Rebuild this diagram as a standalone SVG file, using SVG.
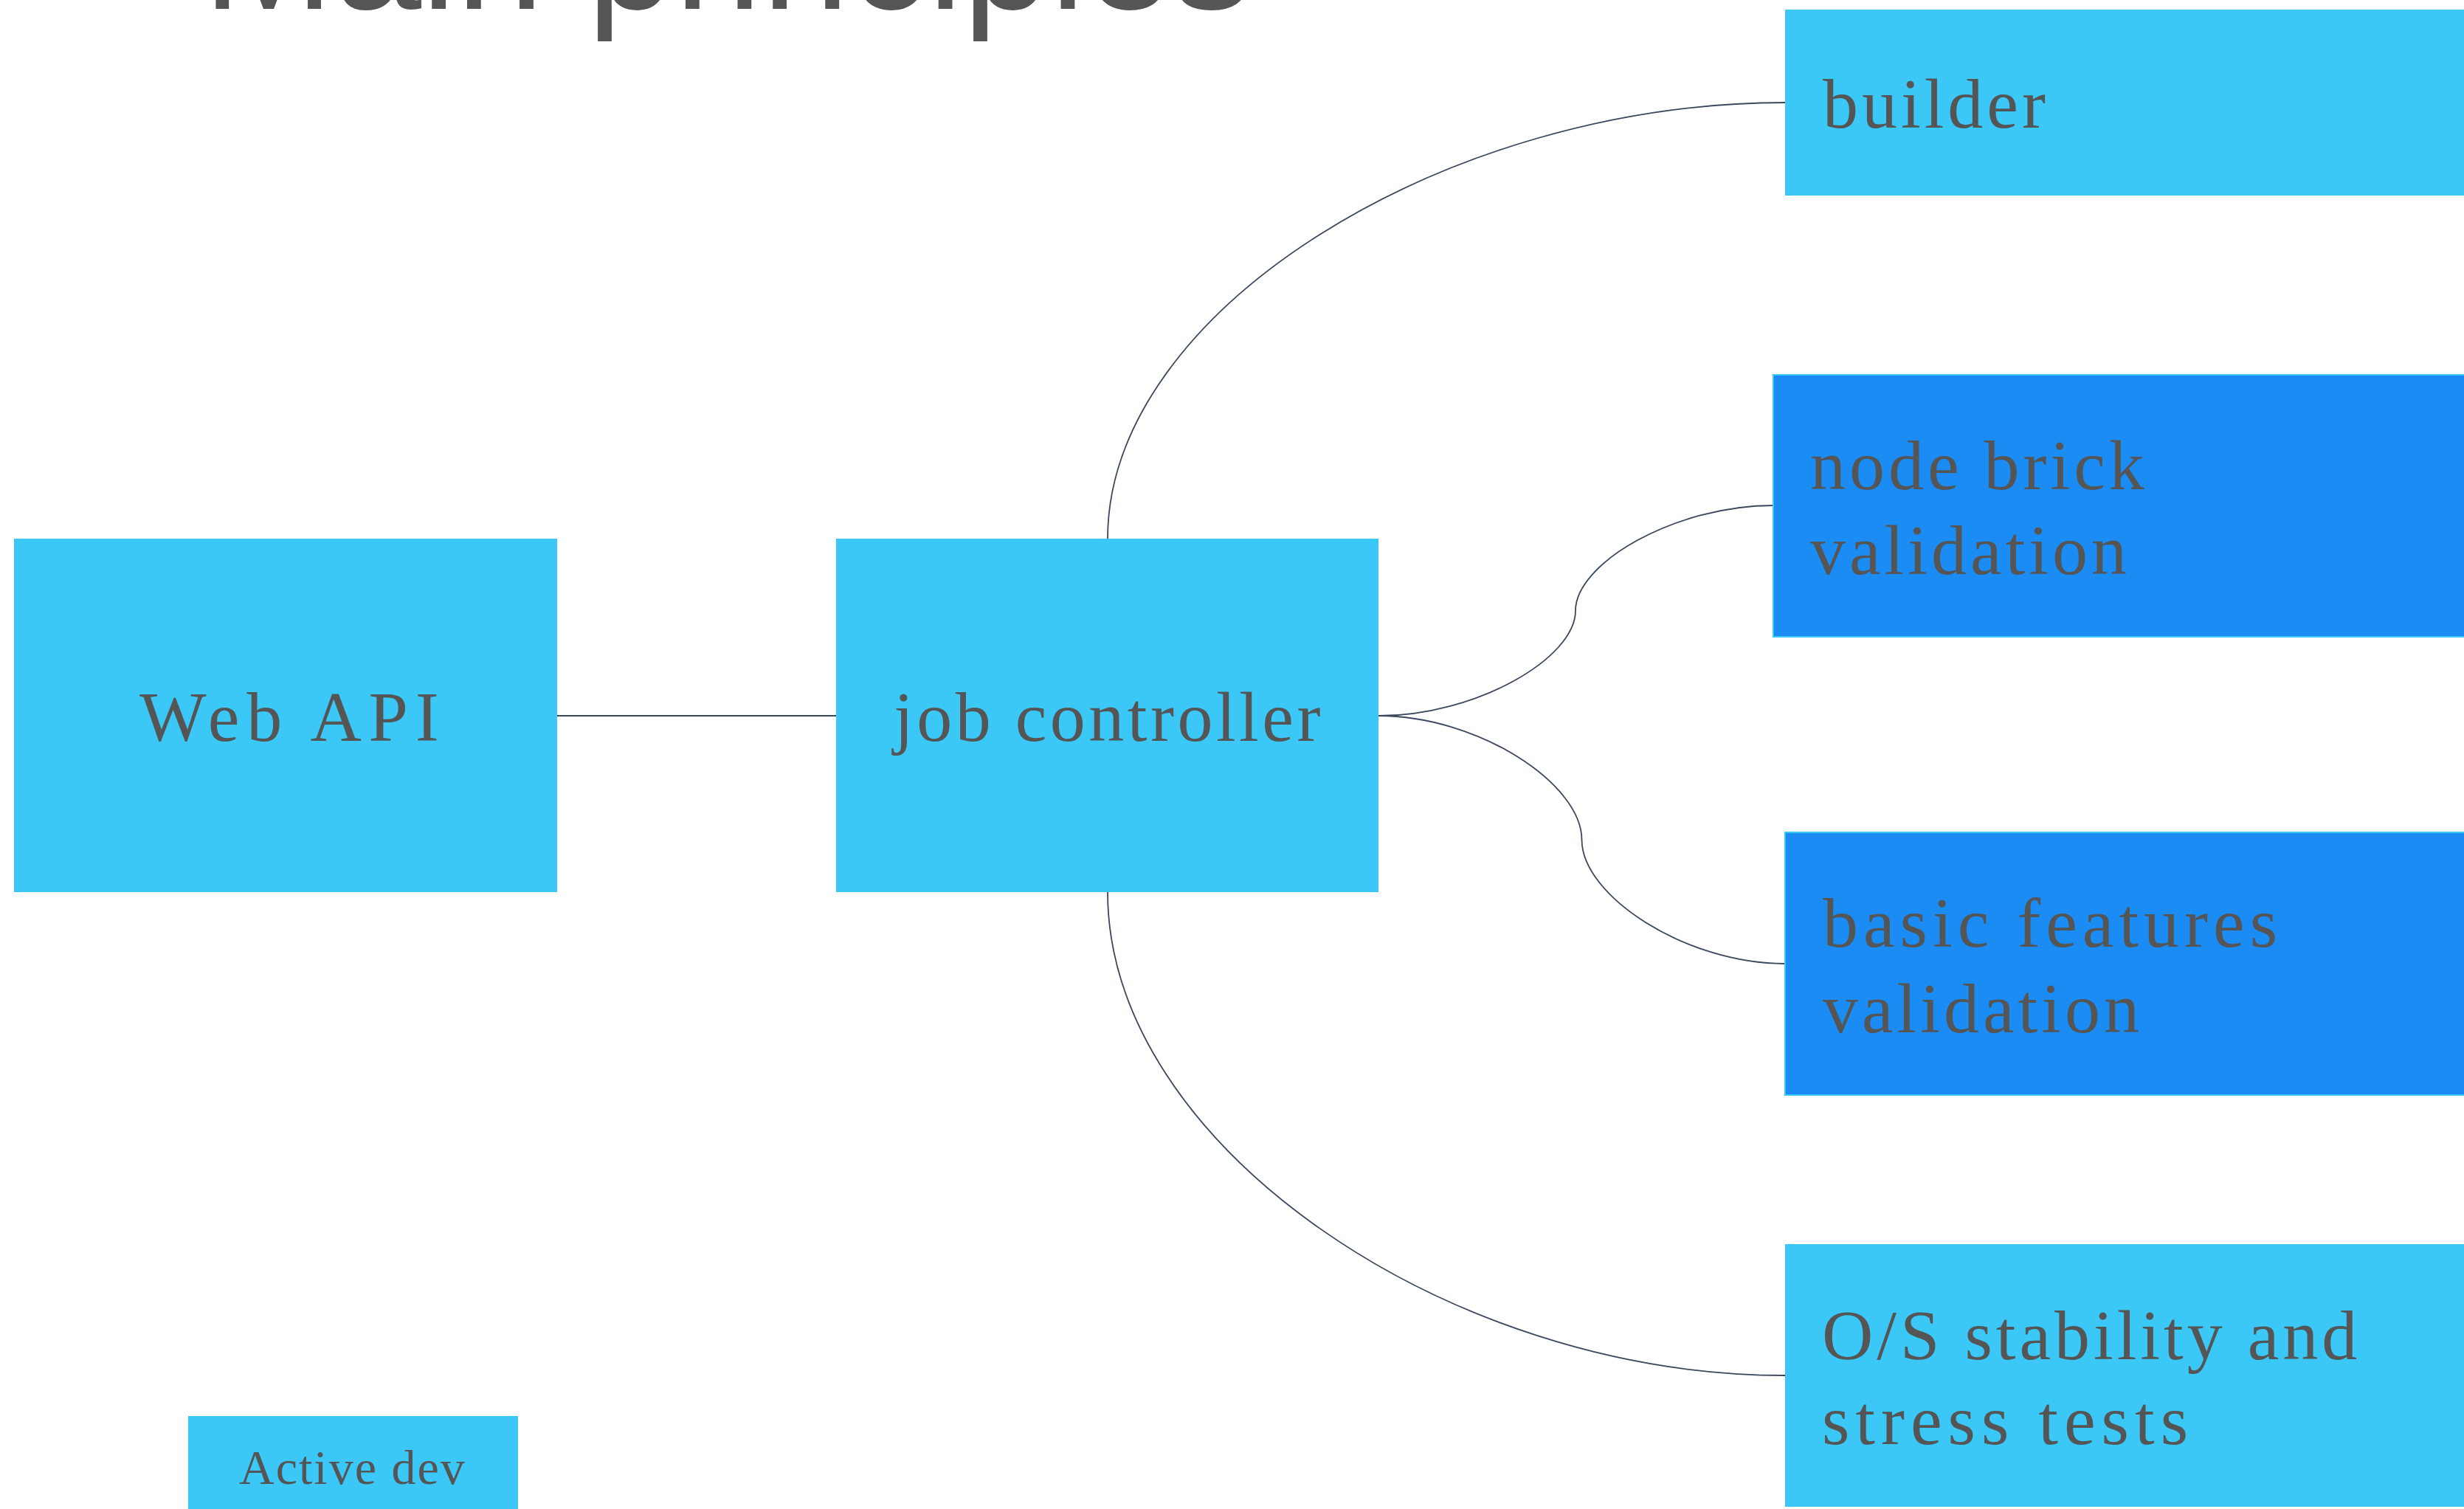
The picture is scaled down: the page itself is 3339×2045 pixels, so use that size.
<svg xmlns="http://www.w3.org/2000/svg" width="3339" height="2045" viewBox="0 0 3339 2045">
<style>
.light{fill:#3BC8F6;}
.dark{fill:#1B8CF4;stroke:#3BC8F6;stroke-width:2;}
.lbl{font-family:"Liberation Serif","Times New Roman",serif;font-size:96px;fill:#555555;letter-spacing:5px;}
.small{font-family:"Liberation Serif","Times New Roman",serif;font-size:66px;fill:#555555;letter-spacing:2px;}
.title{font-family:"Liberation Sans",Arial,sans-serif;font-size:213px;fill:#555555;}
.conn{fill:none;stroke:#3A475C;stroke-width:1.8;}
</style>
<rect x="0" y="0" width="3339" height="2045" fill="#ffffff"/>
<text class="title" x="275" y="12">Main principles</text>
<g id="connectors">
<path class="conn" d="M754 970 L1133 970"/>
<path class="conn" d="M1501 730 C1501 420 1960 139 2419 139"/>
<path class="conn" d="M1868 970 C2000 970 2135 892 2135 827.5 C2135 763 2270 685 2403 685"/>
<path class="conn" d="M1868 970 C2003 970 2143.5 1062 2143.5 1138 C2143.5 1214 2284 1306 2419 1306"/>
<path class="conn" d="M1501 1209 C1501 1550 1960 1864 2419 1864"/>
</g>
<g id="web-api">
<rect class="light" x="19" y="730" width="736" height="479"/>
<text class="lbl" x="189" y="1004" style="letter-spacing:9.8px">Web API</text>
</g>
<g id="job-controller">
<rect class="light" x="1133" y="730" width="735" height="479"/>
<text class="lbl" x="1211" y="1004" style="letter-spacing:4.5px">job controller</text>
</g>
<g id="builder">
<rect class="light" x="2419" y="13" width="930" height="252"/>
<text class="lbl" x="2470" y="173">builder</text>
</g>
<g id="node-brick-validation">
<rect class="dark" x="2403" y="508" width="950" height="355"/>
<text class="lbl" x="2453" y="663">node brick</text>
<text class="lbl" x="2453" y="778">validation</text>
</g>
<g id="basic-features-validation">
<rect class="dark" x="2419" y="1128" width="940" height="356"/>
<text class="lbl" x="2470" y="1283" style="letter-spacing:7px">basic features</text>
<text class="lbl" x="2470" y="1399">validation</text>
</g>
<g id="os-stability">
<rect class="light" x="2419" y="1686" width="930" height="356"/>
<text class="lbl" x="2469" y="1842">O/S stability and</text>
<text class="lbl" x="2469" y="1957" style="letter-spacing:8px">stress tests</text>
</g>
<g id="active-dev">
<rect class="light" x="255" y="1919" width="447" height="140"/>
<text class="small" x="324" y="2011">Active dev</text>
</g>
</svg>
